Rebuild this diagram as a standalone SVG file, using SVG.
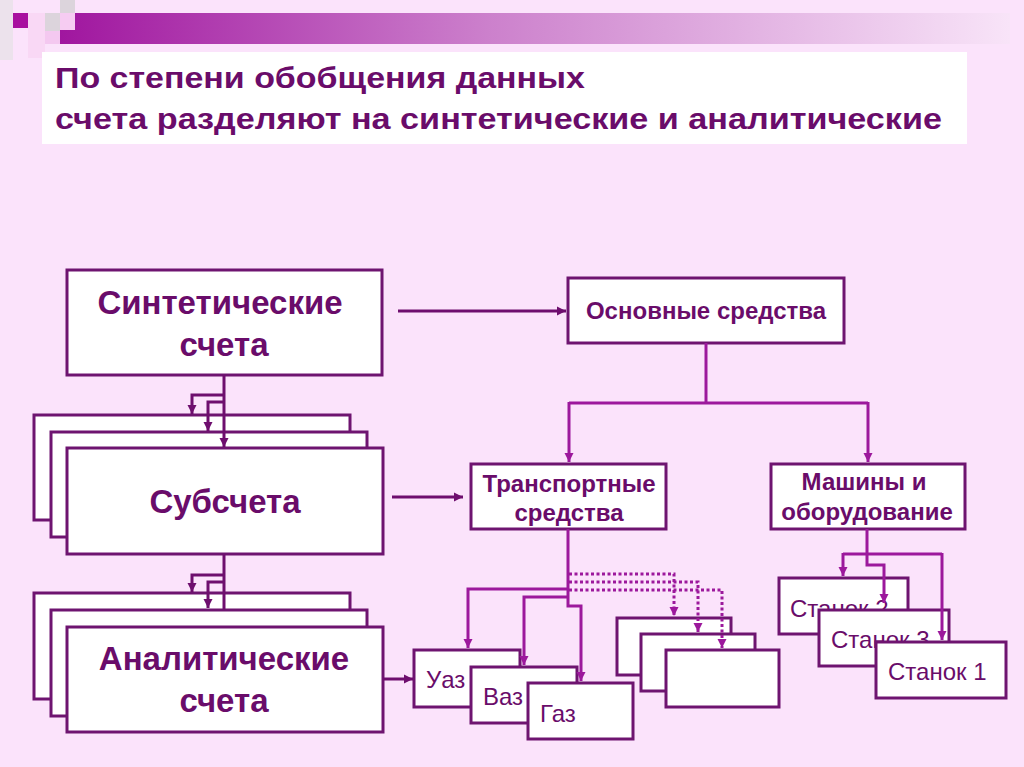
<svg xmlns="http://www.w3.org/2000/svg" width="1024" height="767" viewBox="0 0 1024 767">
<defs>
<linearGradient id="bar" x1="0" y1="0" x2="1" y2="0">
<stop offset="0" stop-color="#a0169f"/>
<stop offset="0.45" stop-color="#cc80cc"/>
<stop offset="1" stop-color="#f8e4f8"/>
</linearGradient>
<marker id="ad" markerUnits="userSpaceOnUse" markerWidth="10" markerHeight="10" refX="9" refY="5" orient="auto" viewBox="0 0 10 10">
<path d="M0,0.5 L9,5 L0,9.5 z" fill="#6e0e6e"/>
</marker>
<marker id="am" markerUnits="userSpaceOnUse" markerWidth="10" markerHeight="10" refX="9" refY="5" orient="auto" viewBox="0 0 10 10">
<path d="M0,0.5 L9,5 L0,9.5 z" fill="#9c189c"/>
</marker>
<style>
.box{fill:#fff;stroke:#6e1470;stroke-width:3}
.t{font-family:"Liberation Sans",Arial,sans-serif;fill:#6a0c6a}
.b{font-weight:bold}
.big{font-size:33px;font-weight:bold}
.mid{font-size:24px;font-weight:bold}
.sm{font-size:24px}
.cd{fill:none;stroke:#6e0e6e;stroke-width:3}
.cm{fill:none;stroke:#9c189c;stroke-width:3}
.dot{stroke-dasharray:3 2.5}
</style>
</defs>
<rect width="1024" height="767" fill="#fbe3fb"/>
<g id="decor">
<rect x="0" y="0" width="13" height="60" fill="#ece2ec"/>
<rect x="13" y="13" width="15" height="15" fill="#a8109f"/>
<rect x="28" y="13" width="17" height="45" fill="#f9d8f5"/>
<rect x="45" y="13" width="15" height="18" fill="#dcd4dc"/>
<rect x="45" y="31" width="15" height="13" fill="#f4c8f0"/>
<rect x="60" y="0" width="15" height="13" fill="#dcd4dc"/>
<rect x="60" y="13" width="950" height="31" fill="url(#bar)"/>
<rect x="60" y="13" width="15" height="17" fill="#f6ccf2"/>
</g>
<g id="title">
<rect x="42" y="52" width="925" height="92" fill="#fff"/>
<text class="t b" x="55" y="88" font-size="29.5" textLength="530" lengthAdjust="spacingAndGlyphs">По степени обобщения данных</text>
<text class="t b" x="55" y="129" font-size="29.5" textLength="887" lengthAdjust="spacingAndGlyphs">счета разделяют на синтетические и аналитические</text>
</g>
<g id="synthetic">
<rect class="box" x="67" y="270" width="315" height="105"/>
<text class="t big" x="220" y="314" text-anchor="middle">Синтетические</text>
<text class="t big" x="224" y="356" text-anchor="middle">счета</text>
</g>
<g id="subaccounts">
<rect class="box" x="34" y="415" width="316" height="105"/>
<rect class="box" x="51" y="432" width="316" height="105"/>
<rect class="box" x="67" y="448" width="316" height="106"/>
<text class="t big" x="225" y="513" text-anchor="middle">Субсчета</text>
</g>
<g id="analytic">
<rect class="box" x="34" y="593" width="316" height="106"/>
<rect class="box" x="51" y="610" width="316" height="106"/>
<rect class="box" x="67" y="627" width="316" height="105"/>
<text class="t big" x="224" y="670" text-anchor="middle">Аналитические</text>
<text class="t big" x="224" y="712" text-anchor="middle">счета</text>
</g>
<g id="fixed-assets">
<rect class="box" x="568" y="278" width="276" height="65"/>
<text class="t mid" x="706" y="319" text-anchor="middle">Основные средства</text>
</g>
<g id="transport">
<rect class="box" x="471" y="464" width="195" height="65"/>
<text class="t mid" x="569" y="492" text-anchor="middle">Транспортные</text>
<text class="t mid" x="569" y="521" text-anchor="middle">средства</text>
</g>
<g id="machines">
<rect class="box" x="771" y="464" width="194" height="65"/>
<text class="t mid" x="864" y="490" text-anchor="middle">Машины и</text>
<text class="t mid" x="867" y="520" text-anchor="middle">оборудование</text>
</g>
<g id="cars">
<rect class="box" x="414" y="650" width="106" height="57"/>
<text class="t sm" x="426" y="688">Уаз</text>
<rect class="box" x="471" y="667" width="106" height="56"/>
<text class="t sm" x="483" y="705">Ваз</text>
<rect class="box" x="528" y="683" width="105" height="56"/>
<text class="t sm" x="540" y="722">Газ</text>
</g>
<g id="blank-boxes">
<rect class="box" x="617" y="618" width="114" height="57"/>
<rect class="box" x="641" y="634" width="114" height="57"/>
<rect class="box" x="666" y="650" width="113" height="57"/>
</g>
<g id="machine-tools">
<rect class="box" x="779" y="578" width="129" height="56"/>
<text class="t sm" x="790" y="617">Станок 2</text>
<rect class="box" x="819" y="610" width="130" height="56"/>
<text class="t sm" x="831" y="648">Станок 3</text>
<rect class="box" x="876" y="642" width="130" height="56"/>
<text class="t sm" x="888" y="680">Станок 1</text>
</g>
<g id="connectors">
<path class="cd" d="M224,375 V447" marker-end="url(#ad)"/>
<path class="cd" d="M224,395 H192 V414" marker-end="url(#ad)"/>
<path class="cd" d="M224,402 H208 V431" marker-end="url(#ad)"/>
<path class="cd" d="M224,554 V610"/>
<path class="cd" d="M224,575 H192 V592" marker-end="url(#ad)"/>
<path class="cd" d="M224,582 H208 V608" marker-end="url(#ad)"/>
<path class="cd" d="M383,679 H413" marker-end="url(#ad)"/>
<path class="cd" d="M398,311 H566" marker-end="url(#ad)"/>
<path class="cd" d="M392,497 H463" marker-end="url(#ad)"/>
<path class="cm" d="M706,343 V403"/>
<path class="cm" d="M569,403 H868"/>
<path class="cm" d="M569,402 V462" marker-end="url(#am)"/>
<path class="cm" d="M868,402 V462" marker-end="url(#am)"/>
<path class="cm" d="M568,529 V606 H581 V681" marker-end="url(#am)"/>
<path class="cm" d="M568,589 H468 V648" marker-end="url(#am)"/>
<path class="cm" d="M568,597 H524 V665" marker-end="url(#am)"/>
<path class="cm dot" d="M569,574 H674 V616" marker-end="url(#am)"/>
<path class="cm dot" d="M569,582 H698 V632" marker-end="url(#am)"/>
<path class="cm dot" d="M569,590 H722 V648" marker-end="url(#am)"/>
<path class="cm" d="M867,529 V565 H884 V603" marker-end="url(#am)"/>
<path class="cm" d="M843,554 H942"/>
<path class="cm" d="M843,553 V576" marker-end="url(#am)"/>
<path class="cm" d="M942,553 V640" marker-end="url(#am)"/>
</g>
</svg>
